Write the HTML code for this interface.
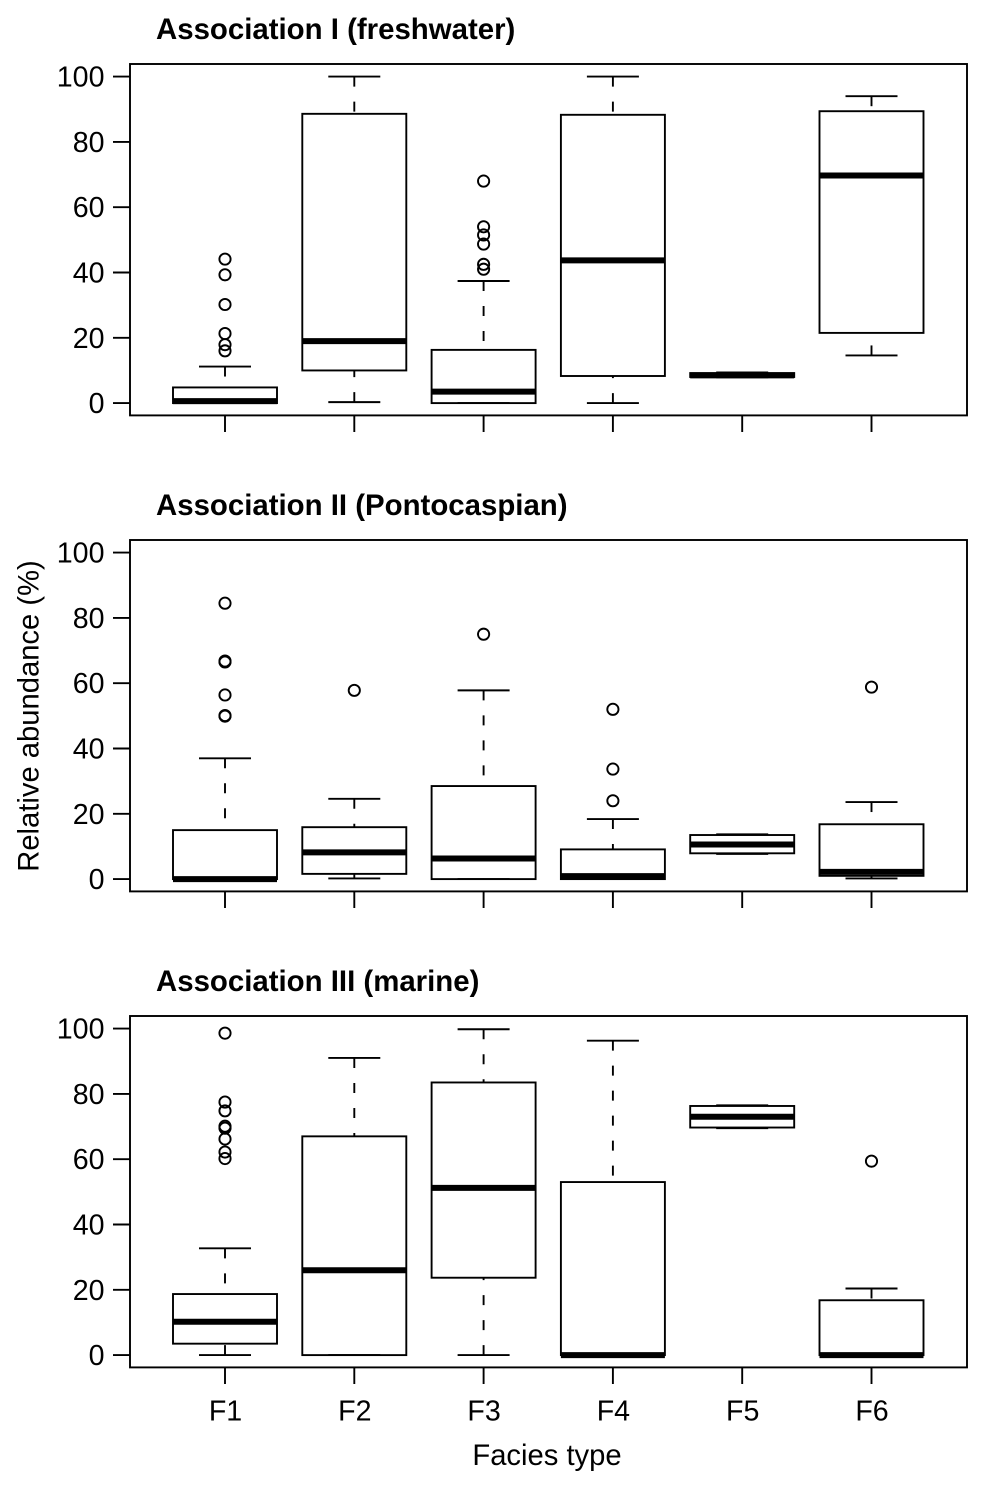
<!DOCTYPE html>
<html lang="en">
<head>
<meta charset="utf-8">
<title>Relative abundance by facies type</title>
<style>
  html, body { margin: 0; padding: 0; background: #fff; }
  svg { display: block; font-family: "Liberation Sans", Arial, sans-serif; fill: #000; }
  .tick-label { font-size: 28.6px; }
  .title { font-size: 29.4px; font-weight: bold; }
  .axis-title { font-size: 29.2px; }
</style>
</head>
<body>
<svg id="chart" xmlns="http://www.w3.org/2000/svg" width="987" height="1490" viewBox="0 0 987 1490">
  <text class="title" x="156" y="39">Association I (freshwater)</text>
  <text class="title" x="156" y="515">Association II (Pontocaspian)</text>
  <text class="title" x="156" y="991">Association III (marine)</text>
  <text class="axis-title" text-anchor="middle" transform="translate(38.5 716) rotate(-90)">Relative abundance (%)</text>
  <text class="axis-title" text-anchor="middle" x="547" y="1465">Facies type</text>
</svg>
<script>
const categories = ["F1", "F2", "F3", "F4", "F5", "F6"];
const yTickValues = [0, 20, 40, 60, 80, 100];
const yTickLabels = ["0", "20", "40", "60", "80", "100"];

const a1Low = [0, 0.3, 0, 0, 7.9, 14.6];
const a1Q1 = [0, 10, 0, 8.3, 8, 21.5];
const a1Median = [0.6, 19, 3.5, 43.7, 8.5, 69.7];
const a1Q3 = [4.8, 88.6, 16.3, 88.3, 9.2, 89.4];
const a1High = [11.2, 100, 37.4, 100, 9.4, 94];
const a1Outliers = [[44.1, 39.3, 30.2, 21.3, 17.9, 16], [], [68, 54, 51.5, 48.7, 42.5, 41], [], [], []];

const a2Low = [0, 0.2, 0, 0, 7.7, 0.2];
const a2Q1 = [0, 1.6, 0, 0, 7.9, 1];
const a2Median = [0, 8.2, 6.3, 0.9, 10.6, 2.2];
const a2Q3 = [15, 15.9, 28.5, 9.1, 13.5, 16.8];
const a2High = [37, 24.6, 57.8, 18.4, 13.7, 23.6];
const a2Outliers = [[84.5, 66.8, 66.5, 56.4, 50.1, 49.9], [57.8], [75], [52, 33.7, 24], [], [58.8]];

const a3Low = [0, 0, 0, 0, 69.5, 0];
const a3Q1 = [3.5, 0, 23.7, 0, 69.7, 0];
const a3Median = [10.2, 26, 51.2, 0, 73, 0];
const a3Q3 = [18.7, 67, 83.5, 53, 76.3, 16.8];
const a3High = [32.7, 91, 99.8, 96.3, 76.5, 20.4];
const a3Outliers = [[98.6, 77.5, 74.8, 70.1, 69.5, 66.2, 62.2, 60.2], [], [], [], [], [59.4]];

const SVGNS = "http://www.w3.org/2000/svg";
const chart = document.getElementById("chart");
const LINE = 1.9;

function xScale(i) { return 225 + i * 129.3; }
function yScale(v, top) { return top + 339.1 - v * 3.265; }

function line(parent, x1, y1, x2, y2, width, dash) {
  const el = document.createElementNS(SVGNS, "line");
  el.setAttribute("x1", x1);
  el.setAttribute("y1", y1);
  el.setAttribute("x2", x2);
  el.setAttribute("y2", y2);
  el.setAttribute("stroke", "#000");
  el.setAttribute("stroke-width", width);
  if (dash) el.setAttribute("stroke-dasharray", dash);
  parent.appendChild(el);
  return el;
}

function drawPanel(key, top, low, q1, median, q3, high, outliers, showXLabels) {
  const g = document.createElementNS(SVGNS, "g");
  
  
  chart.appendChild(g);

  const frame = document.createElementNS(SVGNS, "rect");
  frame.setAttribute("x", 130);
  frame.setAttribute("y", top);
  frame.setAttribute("width", 837);
  frame.setAttribute("height", 351.4);
  frame.setAttribute("fill", "none");
  frame.setAttribute("stroke", "#000");
  frame.setAttribute("stroke-width", LINE);
  
  
  g.appendChild(frame);

  yTickValues.forEach(function (v, i) {
    const y = yScale(v, top);
    const tick = line(g, 113, y, 130, y, LINE);
    
    
    const label = document.createElementNS(SVGNS, "text");
    label.setAttribute("class", "tick-label");
    label.setAttribute("x", 104.5);
    label.setAttribute("y", y + 10);
    label.setAttribute("text-anchor", "end");
    
    
    label.textContent = yTickLabels[i];
    g.appendChild(label);
  });

  categories.forEach(function (cat, i) {
    const x = xScale(i);
    const tick = line(g, x, top + 351, x, top + 368, LINE);
    
    
    if (showXLabels) {
      const label = document.createElementNS(SVGNS, "text");
      label.setAttribute("class", "tick-label");
      label.setAttribute("x", x + 0.5);
      label.setAttribute("y", 1420.5);
      label.setAttribute("text-anchor", "middle");
      
      
      label.textContent = cat;
      g.appendChild(label);
    }

    const yLow = yScale(low[i], top);
    const yQ1 = yScale(q1[i], top);
    const yMed = yScale(median[i], top);
    const yQ3 = yScale(q3[i], top);
    const yHigh = yScale(high[i], top);

    const whiskerHigh = line(g, x, yHigh, x, yQ3, LINE, "10 15");
    
    
    const whiskerLow = line(g, x, yLow, x, yQ1, LINE, "10 15");
    
    
    const capHigh = line(g, x - 26, yHigh, x + 26, yHigh, LINE);
    
    
    const capLow = line(g, x - 26, yLow, x + 26, yLow, LINE);
    
    

    const box = document.createElementNS(SVGNS, "rect");
    box.setAttribute("x", x - 52);
    box.setAttribute("y", yQ3);
    box.setAttribute("width", 104);
    box.setAttribute("height", Math.max(0, yQ1 - yQ3));
    box.setAttribute("fill", "none");
    box.setAttribute("stroke", "#000");
    box.setAttribute("stroke-width", LINE);
    
    
    g.appendChild(box);

    const med = line(g, x - 52, yMed, x + 52, yMed, 6);
    
    

    outliers[i].forEach(function (v) {
      const c = document.createElementNS(SVGNS, "circle");
      c.setAttribute("cx", x);
      c.setAttribute("cy", yScale(v, top));
      c.setAttribute("r", 5.6);
      c.setAttribute("fill", "none");
      c.setAttribute("stroke", "#000");
      c.setAttribute("stroke-width", LINE);
      
      
      g.appendChild(c);
    });
  });
}

drawPanel("association-1", 64, a1Low, a1Q1, a1Median, a1Q3, a1High, a1Outliers, false);
drawPanel("association-2", 540, a2Low, a2Q1, a2Median, a2Q3, a2High, a2Outliers, false);
drawPanel("association-3", 1016, a3Low, a3Q1, a3Median, a3Q3, a3High, a3Outliers, true);
</script>
</body>
</html>
